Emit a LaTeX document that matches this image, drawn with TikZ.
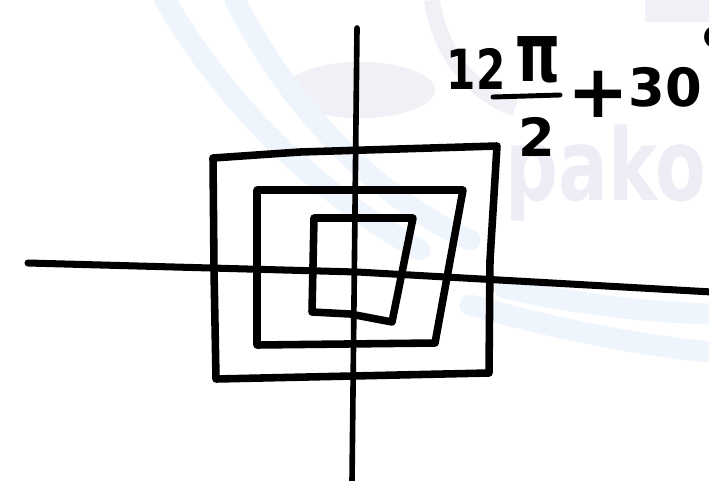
\documentclass[tikz,border=0pt]{standalone}
\usepackage{fontspec}
\setmainfont{DejaVu Sans}
\begin{document}
\begin{tikzpicture}[x=0.02cm,y=-0.02cm,
  ink/.style={line width=4.3pt,line join=round,line cap=round,black},
  axis/.style={line width=3.2pt,line cap=round,black},
  hand/.style={font=\bfseries\fontsize{30}{30}\selectfont,inner sep=0pt},
  wm/.style={fill=wmgrey,draw=none},
  swoosh/.style={draw=wmblue,line width=12pt,line cap=round}]
\definecolor{wmgrey}{HTML}{F0F0F6}
\definecolor{wmblue}{HTML}{EEF5FC}
\definecolor{wmtext}{HTML}{EDEDF6}
\useasboundingbox (0,0) rectangle (709,480);
\fill[white] (0,0) rectangle (709,480);
\begin{scope}
\clip (0,0) rectangle (709,480);
% watermark
\fill[wm] (360,90) ellipse (75 and 28);
\fill[wm] (250,0) arc[start angle=180,end angle=360,x radius=60,y radius=26] -- cycle;
\fill[wm] (645,0) rectangle (709,22);
\draw[draw=wmgrey,line width=9pt] (432,0) .. controls (440,55) and (475,95) .. (515,108);
\draw[swoosh] (165,0) .. controls (235,120) and (330,200) .. (420,250);
\draw[swoosh] (235,0) .. controls (290,110) and (380,200) .. (470,240);
\draw[swoosh] (470,305) .. controls (560,330) and (640,345) .. (709,352);
\draw[swoosh] (505,288) .. controls (580,305) and (650,312) .. (709,314);
\node[anchor=base west,inner sep=0pt,text=wmtext] (wmt) at (505,200)
  {\scalebox{1}[1.35]{\bfseries\fontsize{42}{42}\selectfont pako}};
\end{scope}
% axes
\coordinate (vt) at (357,28);
\coordinate (vb) at (352,482);
\coordinate (hl) at (28,263);
\coordinate (hm) at (357,272);
\coordinate (hr) at (712,292);
\draw[axis] (vt) -- (vb);
\draw[axis,line width=4pt] (hl) -- (hm) -- (hr);
% squares
\draw[ink] (213,158) -- (300,152) -- (497,146) -- (490,260) -- (489,373) -- (216,379) -- (214,270) -- cycle;
\draw[ink] (257,190) -- (463,190) -- (435,343) -- (257,345) -- cycle;
\draw[ink] (314,218) -- (413,218) -- (392,322) -- (350,314) -- (312,312) -- cycle;
% label
\begin{scope}
\clip (0,0) rectangle (709,480);
\node[hand] (n12) at (476,69) {\scalebox{0.8}[1.05]{12}};
\node[hand,font=\bfseries\fontsize{36}{36}\selectfont] (npi) at (538,60) {\scalebox{0.9}[1.3]{π}};
\coordinate (fl) at (493,97);
\coordinate (fr) at (560,95);
\draw[line width=2.8pt,line cap=round] (fl) -- (fr);
\node[hand] (nden) at (537,137) {2};
\node[hand,font=\bfseries\fontsize{42}{42}\selectfont] (nplus) at (598,94) {+};
\node[hand] (n30) at (665,87) {30};
\node[hand,anchor=west,font=\bfseries\fontsize{40}{40}\selectfont] (ndeg) at (698,52) {°};
\end{scope}
\end{tikzpicture}
\end{document}
